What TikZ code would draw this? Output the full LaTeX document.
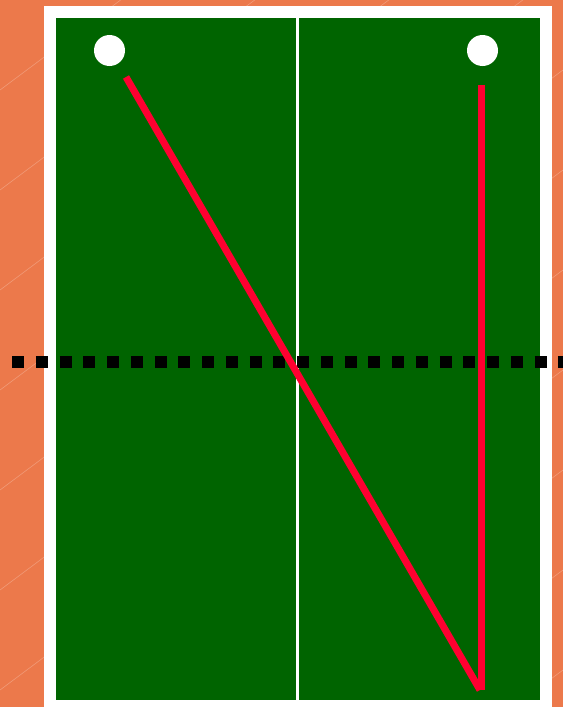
\documentclass[tikz,border=0pt]{standalone}
\usepackage{xcolor}
\usepackage{tikz}
\definecolor{courtorange}{HTML}{EC794B}
\definecolor{tablegreen}{HTML}{006400}
\definecolor{pathred}{HTML}{FF0030}

\begin{document}
\begin{tikzpicture}[
      x=1pt, y=-1pt,
      ball/.style={circle, fill=white, minimum size=31pt, inner sep=0pt},
      route/.style={pathred, line width=7pt},
      netline/.style={black, line width=12pt, dash pattern=on 12pt off 11.75pt}
    ]
    % background and table
    \useasboundingbox (0,0) rectangle (563,707);
    \clip (0,0) rectangle (563,707);
    \fill[courtorange] (0,0) rectangle (563,707);
    \foreach \s in {-100,0,...,1000}
      \draw[white, opacity=0.25, line width=0.6pt] (0,\s+90) -- (563,\s-330);
    \fill[white] (44,6) rectangle (552,707);
    \fill[tablegreen] (56,18) rectangle (540,700);
    \draw[white, line width=3pt] (297.5,18) -- (297.5,700);

    \node[ball] (ball1) at (109.5,50.5) {};
    \node[ball] (ball2) at (482.5,50.5) {};

    \coordinate (start1) at (126,77);
    \coordinate (start2) at (481.5,85);
    \coordinate (bounce) at (480,690);
    \coordinate (bottom2) at (481.5,690);

    \draw[netline] (12,362) -- (563,362);
    \draw[route] (start1) -- (bounce);
    \draw[route] (start2) -- (bottom2);
  \end{tikzpicture}
\end{document}
